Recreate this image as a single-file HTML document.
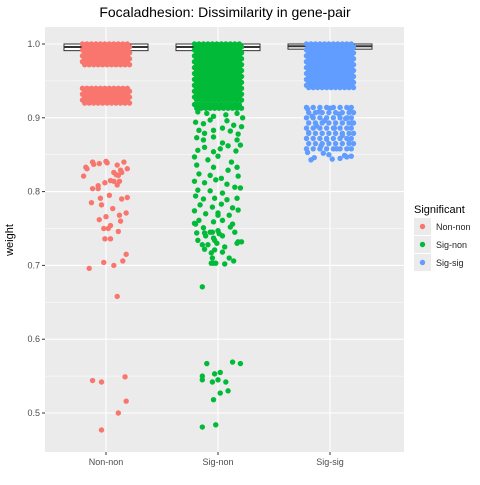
<!DOCTYPE html>
<html><head><meta charset="utf-8"><style>
body{margin:0;background:#fff;}
svg text{font-family:"Liberation Sans",sans-serif;}
</style></head><body>
<svg id="chart" width="480" height="480" viewBox="0 0 480 480" xmlns="http://www.w3.org/2000/svg">
<text x="225" y="17" font-size="14" text-anchor="middle" fill="#000">Focaladhesion: Dissimilarity in gene-pair</text>
<rect x="45" y="27" width="359" height="425" fill="#ebebeb"/>
<g id="grid"></g>
<g id="boxes"></g>
<g id="points"></g>
<g id="axes"></g>
<text transform="translate(13,240) rotate(-90)" font-size="11" text-anchor="middle">weight</text>
<g>
<text x="414" y="213" font-size="11">Significant</text>
<rect x="414" y="218" width="17" height="17" fill="#ebebeb"/>
<circle cx="422.5" cy="226.5" r="2.7" fill="#F8766D"/>
<text x="436" y="230" font-size="9" fill="#222">Non-non</text>
<rect x="414" y="236" width="17" height="17" fill="#ebebeb"/>
<circle cx="422.5" cy="244.5" r="2.7" fill="#00BA38"/>
<text x="436" y="248" font-size="9" fill="#222">Sig-non</text>
<rect x="414" y="254" width="17" height="17" fill="#ebebeb"/>
<circle cx="422.5" cy="262.5" r="2.7" fill="#619CFF"/>
<text x="436" y="266" font-size="9" fill="#222">Sig-sig</text>
</g>
</svg>
<script>
const categories = ["Non-non","Sig-non","Sig-sig"];
const colors = ["#F8766D","#00BA38","#619CFF"];
const yTicks = [0.5,0.6,0.7,0.8,0.9,1.0];
const yTickLabels = ["0.5","0.6","0.7","0.8","0.9","1.0"];
const yMinor = [0.55,0.65,0.75,0.85,0.95];
// box stats: [lower, median, upper]
const boxLower = [0.991,0.991,0.993];
const boxMedian = [0.996,0.996,0.997];
const boxUpper = [1.0,1.0,1.0];
// scattered points: values and jitter (category units)
const nonnonValues = [0.840,0.837,0.838,0.841,0.839,0.836,0.840,0.831,0.833,0.831,0.821,0.826,0.829,0.826,0.822,0.823,0.815,0.814,0.814,0.809,0.812,0.808,0.804,0.804,0.795,0.791,0.785,0.782,0.790,0.792,0.777,0.768,0.771,0.762,0.766,0.760,0.754,0.750,0.750,0.746,0.736,0.736,0.715,0.706,0.704,0.700,0.696,0.658,0.544,0.542,0.549,0.516,0.500,0.477];
const nonnonJitter = [-0.12,-0.11,-0.06,0.00,0.01,0.10,0.16,0.19,-0.18,-0.17,-0.20,0.07,0.13,0.14,0.11,0.09,0.04,0.07,0.12,0.10,-0.01,-0.07,-0.07,-0.12,0.03,-0.05,-0.13,-0.04,0.14,0.19,0.06,0.12,0.18,-0.06,0.00,0.13,0.04,-0.02,0.02,0.11,-0.01,0.04,0.18,0.15,-0.02,0.07,-0.15,0.10,-0.12,-0.04,0.17,0.18,0.11,-0.04];
const signonValues = [0.908,0.906,0.902,0.904,0.906,0.900,0.894,0.892,0.897,0.896,0.890,0.888,0.883,0.879,0.883,0.886,0.882,0.878,0.873,0.870,0.874,0.870,0.863,0.862,0.866,0.860,0.856,0.858,0.855,0.854,0.847,0.843,0.848,0.840,0.833,0.836,0.833,0.829,0.824,0.822,0.818,0.821,0.814,0.812,0.816,0.810,0.806,0.802,0.801,0.798,0.805,0.794,0.790,0.791,0.789,0.791,0.782,0.779,0.783,0.778,0.774,0.770,0.771,0.768,0.775,0.761,0.759,0.761,0.756,0.756,0.751,0.745,0.752,0.768,0.757,0.744,0.740,0.737,0.743,0.745,0.732,0.722,0.721,0.718,0.730,0.710,0.706,0.703,0.702,0.728,0.734,0.730,0.744,0.745,0.747,0.740,0.734,0.728,0.725,0.732,0.717,0.710,0.703,0.703,0.671,0.567,0.569,0.567,0.550,0.553,0.555,0.545,0.542,0.542,0.545,0.527,0.518,0.530,0.484,0.481];
const signonJitter = [-0.18,-0.10,-0.04,0.07,0.17,0.22,-0.20,-0.13,-0.07,0.08,0.14,0.21,-0.17,-0.12,-0.04,0.04,0.11,0.18,-0.19,-0.13,-0.04,0.17,0.20,0.09,0.04,-0.12,-0.18,0.02,0.16,-0.04,-0.21,-0.09,0.00,0.12,0.17,-0.19,-0.04,0.09,-0.17,-0.07,0.03,0.18,-0.21,-0.12,-0.02,0.08,0.15,-0.18,-0.07,0.04,0.20,-0.20,-0.13,-0.03,0.08,0.17,-0.16,-0.05,0.03,0.13,-0.21,-0.11,0.00,0.10,0.18,-0.17,-0.04,0.04,-0.20,0.13,-0.13,-0.07,0.11,0.00,-0.21,-0.19,-0.11,-0.04,0.01,0.15,0.21,-0.12,-0.03,0.04,0.17,-0.05,0.14,-0.04,0.06,-0.14,-0.18,-0.01,-0.12,-0.05,0.00,0.04,-0.03,-0.09,0.06,0.18,-0.06,0.10,-0.06,-0.02,-0.14,-0.10,0.13,0.20,-0.14,-0.03,0.02,0.00,-0.05,0.07,-0.14,0.02,-0.04,0.09,-0.02,-0.14];
const sigsigValues = [0.912,0.913,0.910,0.908,0.905,0.902,0.899,0.896,0.893,0.889,0.886,0.880,0.876,0.871,0.866,0.862,0.858,0.853,0.849,0.846,0.844,0.848,0.852,0.845,0.843,0.847,0.850];
const sigsigJitter = [-0.20,0.00,0.18,-0.10,0.08,-0.16,0.14,-0.05,0.20,-0.12,0.04,-0.19,0.11,-0.03,0.17,-0.08,0.06,-0.20,0.13,-0.14,0.02,0.19,-0.06,0.09,-0.17,0.15,-0.01];
// dense bands (solid-looking blocks): value rows and jitter columns
const bandNonNonTopRows = [1.0,0.996,0.992,0.988,0.984,0.980,0.976,0.972];
const bandNonNonMidRows = [0.940,0.936,0.932,0.928,0.924,0.920];
const bandSigNonRows = [1.0,0.996,0.992,0.988,0.984,0.980,0.976,0.972,0.968,0.964,0.960,0.956,0.952,0.948,0.944,0.940,0.936,0.932,0.928,0.924,0.918,0.913];
const bandSigSigTopRows = [1.0,0.996,0.992,0.988,0.984,0.980,0.976,0.972,0.968,0.964,0.960,0.956,0.952,0.948,0.944,0.941];
const bandSigSigLowRows = [0.914,0.907,0.900,0.893,0.886,0.879,0.872,0.865,0.858];
const bandCols = [-0.2,-0.16,-0.12,-0.08,-0.04,0,0.04,0.08,0.12,0.16,0.2];
const bandColsSparse = [-0.2,-0.14,-0.08,-0.02,0.04,0.1,0.16,0.2];

const NS="http://www.w3.org/2000/svg";
const X0=106, XSTEP=112, Y1=44, PXPERUNIT=738;
function xScale(i,j){return X0+XSTEP*i+(j||0)*XSTEP;}
function yScale(v){return Y1+(1-v)*PXPERUNIT;}
function mk(tag,attrs,parent){const e=document.createElementNS(NS,tag);for(const k in attrs)e.setAttribute(k,attrs[k]);parent.appendChild(e);return e;}
const grid=document.getElementById('grid'),boxes=document.getElementById('boxes'),pts=document.getElementById('points'),axes=document.getElementById('axes');
yMinor.forEach(v=>{const l=mk('line',{x1:45,x2:404,y1:yScale(v),y2:yScale(v),stroke:'#fff','stroke-width':0.5},grid);

});
yTicks.forEach((v,i)=>{const l=mk('line',{x1:45,x2:404,y1:yScale(v),y2:yScale(v),stroke:'#fff','stroke-width':1.1},grid);


const t=mk('text',{x:40,y:yScale(v)+3,'font-size':9,'text-anchor':'end',fill:'#4d4d4d'},axes);t.textContent=yTickLabels[i];


const tk=mk('line',{x1:42,x2:45,y1:yScale(v),y2:yScale(v),stroke:'#333','stroke-width':1},axes);

});
categories.forEach((c,i)=>{const l=mk('line',{x1:xScale(i),x2:xScale(i),y1:27,y2:452,stroke:'#fff','stroke-width':1.1},grid);


const t=mk('text',{x:xScale(i),y:465,'font-size':9,'text-anchor':'middle',fill:'#4d4d4d'},axes);t.textContent=c;


const tk=mk('line',{x1:xScale(i),x2:xScale(i),y1:452,y2:455,stroke:'#333','stroke-width':1},axes);


const b=mk('rect',{x:xScale(i,-0.375),y:yScale(boxUpper[i]),width:0.75*XSTEP,height:yScale(boxLower[i])-yScale(boxUpper[i]),fill:'#fff',stroke:'#333','stroke-width':1},boxes);


const m=mk('line',{x1:xScale(i,-0.375),x2:xScale(i,0.375),y1:yScale(boxMedian[i]),y2:yScale(boxMedian[i]),stroke:'#333','stroke-width':2},boxes);

});
function dot(ci,v,j){const c=mk('circle',{cx:xScale(ci,j),cy:yScale(v),r:2.7,fill:colors[ci]},pts);

}
function band(ci,rows,cols){rows.forEach((v,r)=>cols.forEach((j,k)=>dot(ci,v,j+((r%2)?0.01:-0.01))));}
band(0,bandNonNonTopRows,bandCols);band(0,bandNonNonMidRows,bandCols);
band(1,bandSigNonRows,bandCols);
band(2,bandSigSigTopRows,bandCols);band(2,bandSigSigLowRows,bandColsSparse);
nonnonValues.forEach((v,k)=>dot(0,v,nonnonJitter[k]));
signonValues.forEach((v,k)=>dot(1,v,signonJitter[k]));
sigsigValues.forEach((v,k)=>dot(2,v,sigsigJitter[k]));
</script>
</body></html>
